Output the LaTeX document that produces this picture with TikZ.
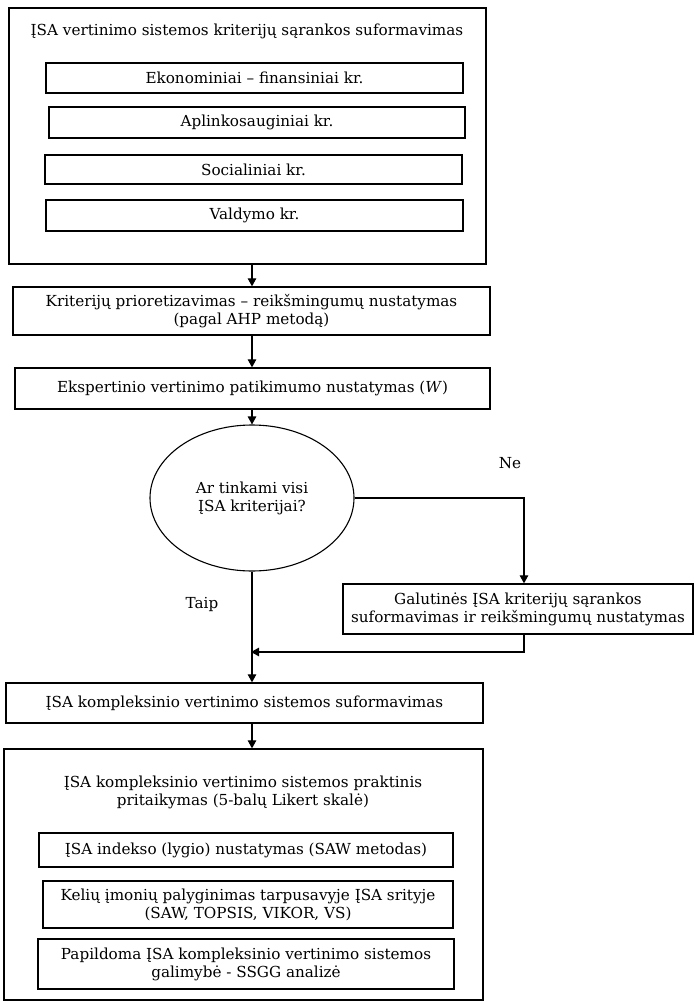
\documentclass[tikz,border=0pt]{standalone}
\usepackage{fontspec}
\setmainfont{DejaVu Serif}
\usetikzlibrary{arrows.meta,shapes.geometric}
\newcommand\dfont{\fontsize{15.2pt}{18pt}\selectfont}
\begin{document}
\begin{tikzpicture}[x=1pt,y=-1pt,
  box/.style={draw, line width=1.3pt, inner sep=0pt, align=center, font=\dfont},
  txt/.style={inner sep=0pt, align=center, font=\dfont},
  arr/.style={line width=1.1pt, -{Triangle[length=8pt,width=8.5pt]}}]
\useasboundingbox (0,0) rectangle (694,1003);
% top container
\node[box, minimum width=477pt, minimum height=256pt] (set) at (247.5,136) {};
\node[txt] (settitle) at (247,31) {ĮSA vertinimo sistemos kriterijų sąrankos suformavimas};
\node[box, minimum width=417pt, minimum height=30pt] (e1) at (254.5,78) {Ekonominiai – finansiniai kr.};
\node[box, minimum width=416pt, minimum height=31pt] (e2) at (257,122.5) {Aplinkosauginiai kr.};
\node[box, minimum width=417pt, minimum height=29pt] (e3) at (253.5,169.5) {Socialiniai kr.};
\node[box, minimum width=417pt, minimum height=31pt] (e4) at (254.5,215.5) {Valdymo kr.};
% steps
\node[box, minimum width=477pt, minimum height=48pt] (krit) at (251.5,311) {Kriterijų prioretizavimas – reikšmingumų nustatymas\\(pagal AHP metodą)};
\node[box, minimum width=475pt, minimum height=41pt] (eksp) at (252.5,388.5) {Ekspertinio vertinimo patikimumo nustatymas (\textit{W})};
\node[draw, ellipse, line width=1.1pt, inner sep=0pt, minimum width=204pt, minimum height=146pt, align=center, font=\dfont] (dec) at (252,498) {Ar tinkami visi\\ĮSA kriterijai?};
\node[box, minimum width=350pt, minimum height=50pt] (gal) at (518,609) {Galutinės ĮSA kriterijų sąrankos\\suformavimas ir reikšmingumų nustatymas};
\node[box, minimum width=477pt, minimum height=40pt] (komp) at (244.5,703) {ĮSA kompleksinio vertinimo sistemos suformavimas};
% bottom container
\node[box, minimum width=479pt, minimum height=251pt] (prak) at (243.5,874.5) {};
\node[txt] (praktitle) at (243,792) {ĮSA kompleksinio vertinimo sistemos praktinis\\pritaikymas (5-balų Likert skalė)};
\node[box, minimum width=414pt, minimum height=34pt] (ind) at (246,850) {ĮSA indekso (lygio) nustatymas (SAW metodas)};
\node[box, minimum width=410pt, minimum height=47pt] (kel) at (248,904.5) {Kelių įmonių palyginimas tarpusavyje ĮSA srityje\\(SAW, TOPSIS, VIKOR, VS)};
\node[box, minimum width=416pt, minimum height=50pt] (pap) at (246,964) {Papildoma ĮSA kompleksinio vertinimo sistemos\\galimybė - SSGG analizė};
% labels
\node[txt] (ne) at (510,463) {Ne};
\node[txt] (taip) at (202,604) {Taip};
% connectors
\coordinate (ax) at (252,0);
\coordinate (nx) at (524,0);
\coordinate (jn) at (251,652);
\draw[arr] (set.south -| ax) -- (krit.north -| ax);
\draw[arr] (krit.south -| ax) -- (eksp.north -| ax);
\draw[arr] (eksp.south -| ax) -- (dec.north);
\draw[arr] (dec.east) -| (gal.north -| nx);
\draw[arr] (gal.south -| nx) |- (jn);
\draw[arr] (dec.south) -- (komp.north -| dec.south);
\draw[arr] (komp.south -| ax) -- (prak.north -| ax);
\end{tikzpicture}
\end{document}
